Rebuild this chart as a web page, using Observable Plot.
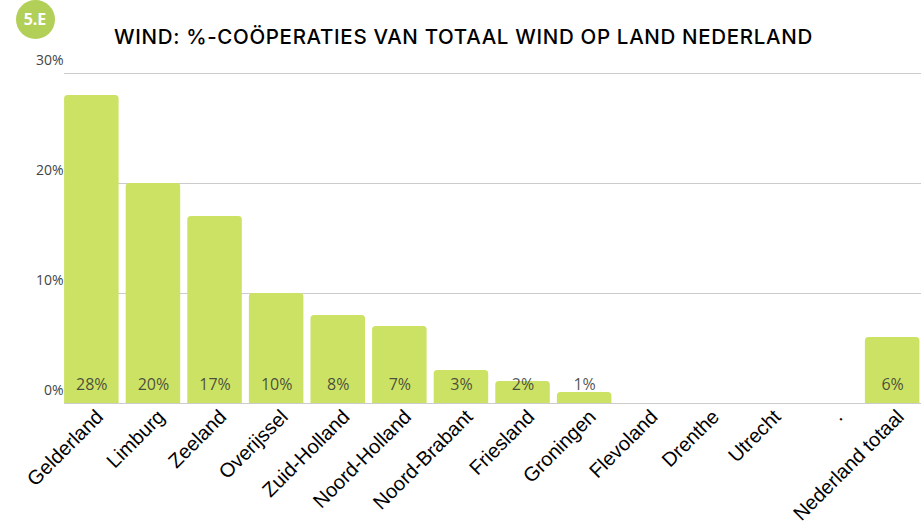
<!DOCTYPE html>
<html><head><meta charset="utf-8">
<script src="https://cdn.jsdelivr.net/npm/d3@7"></script>
<script src="https://cdn.jsdelivr.net/npm/@observablehq/plot@0.6"></script>
<style>
html,body{margin:0;padding:0;background:#fff;overflow:hidden}
#wrap{position:relative;width:921px;height:523px}
#badge{position:absolute;left:16px;top:0;width:38px;height:39px;padding-right:1px;border-radius:50%;background:#b2cf58;color:#fff;font:700 16px/39px "Open Sans",sans-serif;text-align:center}
#title{position:absolute;left:114px;top:22px;font:500 20.5px/30px Inter,"Open Sans",sans-serif;letter-spacing:0.67px;color:#000;white-space:nowrap}
#chart{position:absolute;left:0;top:50px}
svg{display:block}
</style></head><body>
<div id="wrap">
<div id="badge">5.E</div>
<div id="title">WIND: %-COÖPERATIES VAN TOTAAL WIND OP LAND NEDERLAND</div>
<div id="chart"></div>
</div>
<script>
const provinces = ["Gelderland","Limburg","Zeeland","Overijssel","Zuid-Holland","Noord-Holland","Noord-Brabant","Friesland","Groningen","Flevoland","Drenthe","Utrecht",".","Nederland totaal"];
const shares = [28,20,17,10,8,7,3,2,1,0,0,0,0,6];
const yTicks = [0,10,20,30];
const rows = provinces.map((p,i)=>({p,v:shares[i]}));
const plot = Plot.plot({
  width:921,height:473,
  marginLeft:64,marginRight:0,marginTop:23,marginBottom:120,
  style:{background:"#fff",overflow:"visible"},
  x:{domain:provinces,padding:0.115,round:false,range:[57,926.5],label:null},
  y:{domain:[0,30],label:null},
  marks:[
    Plot.ruleY(yTicks,{y:d=>d,stroke:"#cccccc",strokeWidth:1}),
    Plot.barY(rows.filter(d=>d.v>0),{x:"p",y:"v",fill:"#cbe265",ry1:3.5}),
    Plot.axisY({ticks:yTicks,tickSize:0,tickPadding:1,dy:-13,tickFormat:d=>d+"%",fontSize:14,fill:"#444",fontFamily:"Open Sans",label:null}),
    Plot.axisX({tickSize:0,tickRotate:-45,tickPadding:4,dx:8,dy:6,fontSize:20,fontFamily:"Liberation Sans",fill:"#000",label:null}),
    Plot.text(rows.filter(d=>d.v>0),{x:"p",y:()=>0,dy:-19,text:d=>d.v+"%",fontSize:16,fontFamily:"Open Sans",fill:"#333",fillOpacity:0.85})
  ]
});
document.getElementById("chart").appendChild(plot);
</script></body></html>
